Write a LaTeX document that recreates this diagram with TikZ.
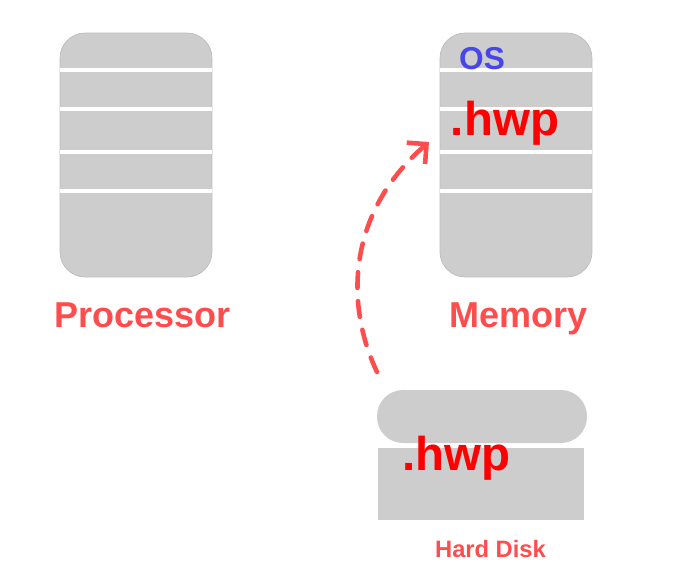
\documentclass[tikz,border=0pt]{standalone}
\usepackage{fontspec}
\setmainfont{Liberation Sans}
\usetikzlibrary{positioning, arrows.meta}

\definecolor{unitgray}{RGB}{205,205,205}
\definecolor{edgegray}{RGB}{188,188,188}
\definecolor{labelred}{RGB}{255,77,77}
\definecolor{filered}{RGB}{255,0,0}
\definecolor{osblue}{RGB}{70,70,235}

\tikzset{
  unit/.style={draw=edgegray, fill=unitgray, rounded corners=0.5cm,
    minimum width=3.04cm, minimum height=4.88cm, inner sep=0pt},
  slot/.style={white, line width=1.8pt},
  caption/.style={labelred, anchor=base,
    font=\bfseries\fontsize{20.5}{24}\selectfont},
  filetag/.style={filered, anchor=base,
    font=\bfseries\fontsize{27}{32}\selectfont},
}

\begin{document}
\begin{tikzpicture}[x=0.02cm, y=-0.02cm]
    \useasboundingbox (0,0) rectangle (693,579);
    % Processor and memory, same size
    \node[unit] (proc) at (136,155) {};
    \node[unit] (mem)  at (516,155) {};
    % White separators between the slots
    \foreach \y in {70,109,152,191} {
      \draw[slot] (proc.west |- 0,\y) -- (proc.east |- 0,\y);
      \draw[slot] (mem.west |- 0,\y) -- (mem.east |- 0,\y);
    }
    \node[caption] (proclbl) at (142.5,327) {Processor};
    \node[caption] (memlbl)  at (518.5,327) {Memory};
    \node[osblue, anchor=base, font=\bfseries\fontsize{18}{22}\selectfont]
    (os) at (482,69) {OS};
    \node[filetag] (memfile) at (505,135) {.hwp};
    % Hard disk: lid on top of the body
    \node[fill=unitgray, rounded corners=0.52cm, minimum width=4.2cm,
      minimum height=1.06cm, inner sep=0pt] (disktop) at (482,416.5) {};
    \node[fill=unitgray, minimum width=4.12cm, minimum height=1.44cm,
      inner sep=0pt] (diskbody) at (481,484) {};
    \node[filetag] (diskfile) at (456.5,470) {.hwp};
    \node[labelred, anchor=base, font=\bfseries\fontsize{13.5}{16}\selectfont]
    (disklbl) at (490.5,557) {Hard Disk};
    % Loading the file from disk into memory
    \coordinate (loadfrom) at (377,372);
    \coordinate (loadto) at (429,142);
    \draw[labelred, line width=2.6pt, line cap=round,
      dash pattern=on 9pt off 7.5pt,
      -{Straight Barb[length=8pt, width=16pt]}]
    (loadfrom) .. controls (343,300) and (350,210) .. (loadto);
\end{tikzpicture}
\end{document}
